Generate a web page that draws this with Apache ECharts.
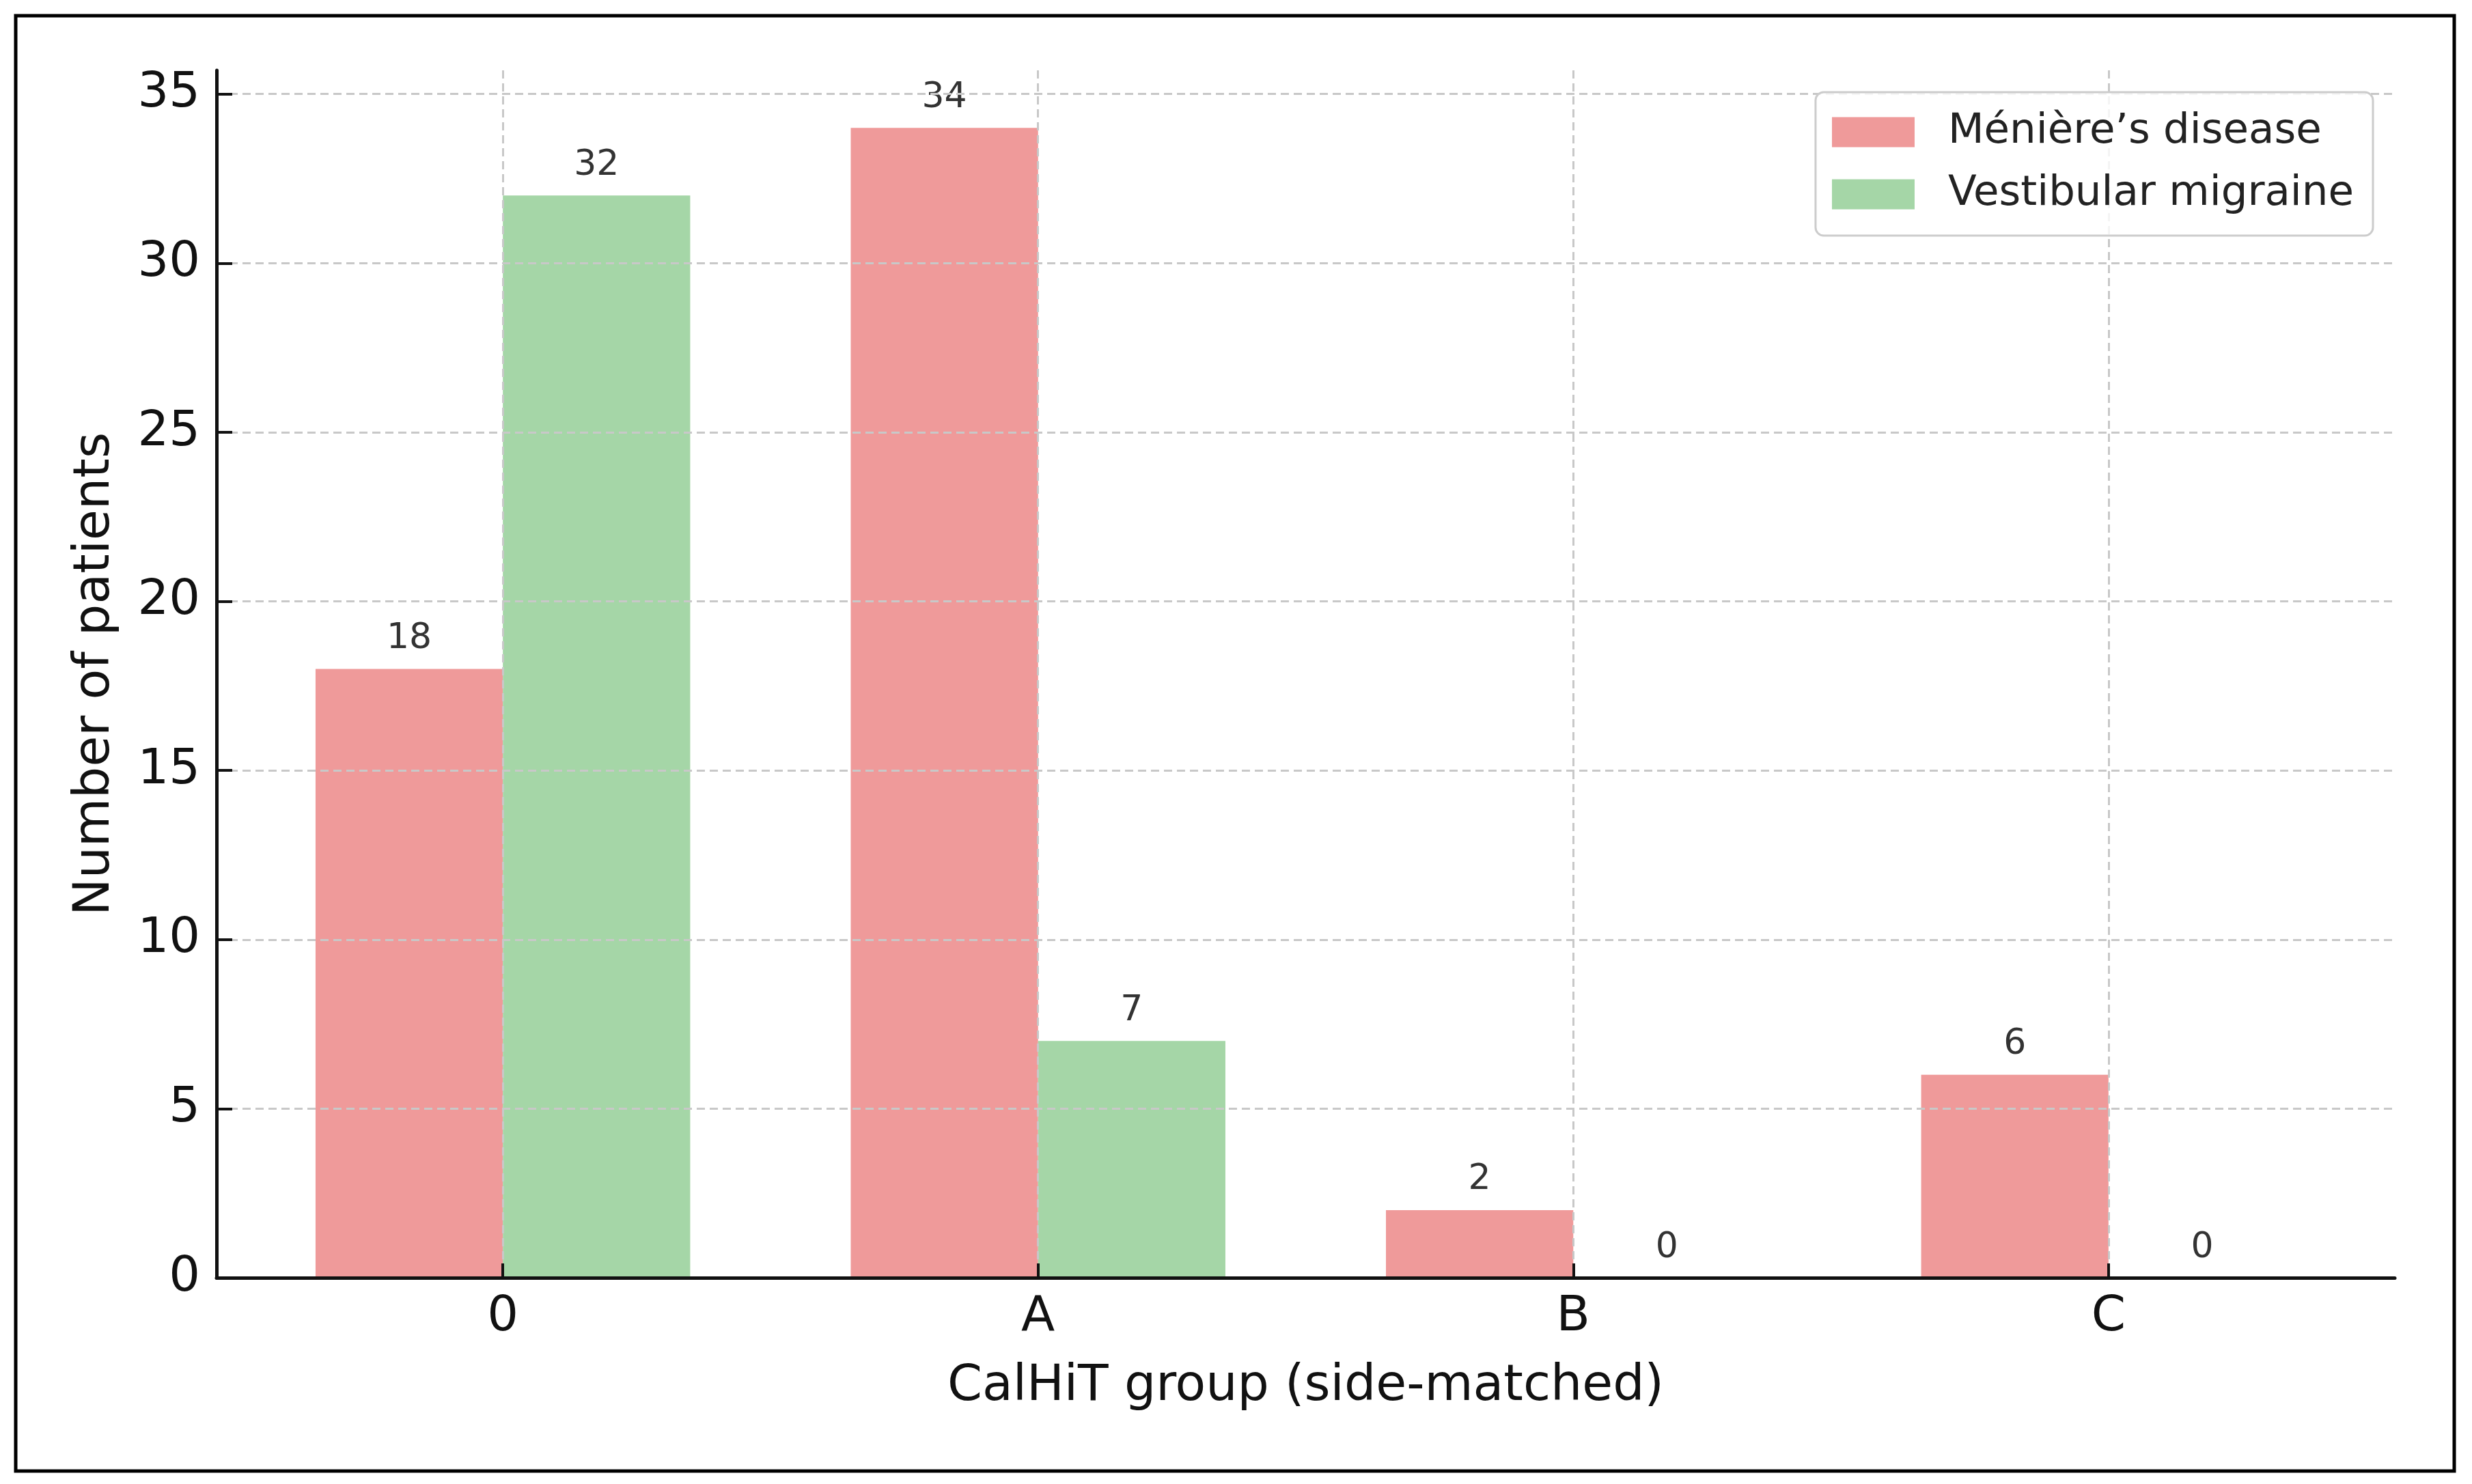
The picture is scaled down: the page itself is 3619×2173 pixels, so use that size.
<!DOCTYPE html>
<html>
<head>
<meta charset="utf-8">
<script src="https://cdn.jsdelivr.net/npm/echarts@6/dist/echarts.min.js"></script>
<style>
  html, body { margin: 0; padding: 0; background: #fff; }
  #chart { width: 3619px; height: 2173px; }
</style>
</head>
<body>
<div id="chart"></div>
<script>
(function () {
  "use strict";

  // data
  const categories = ['0', 'A', 'B', 'C'];
  const meniere = [18, 34, 2, 6];
  const vestibular = [32, 7, 0, 0];
  const yTicks = [0, 5, 10, 15, 20, 25, 30, 35];
  const seriesNames = ['Ménière’s disease', 'Vestibular migraine'];

  const xTicks = categories.map((c, i) => i);
  const font = 'DejaVu Sans';

  const gridLine = { show: true, lineStyle: { color: '#c8c8c8', width: 3, type: [12, 7] } };

  function barSeries(name, values, color) {
    return {
      name: name,
      type: 'bar',
      z: -1,
      barWidth: '35%',
      barGap: '0%',
      itemStyle: { color: color },
      label: {
        show: true,
        position: 'top',
        distance: 18,
        fontFamily: font,
        fontSize: 52,
        color: '#333'
      },
      data: values.map((v, i) => [i, v])
    };
  }

  const chart = echarts.init(document.getElementById('chart'));
  chart.setOption({
    animation: false,
    backgroundColor: '#fff',
    textStyle: { fontFamily: font },
    grid: { left: 317, right: 113, top: 103, bottom: 302, containLabel: false },
    legend: {
      orient: 'vertical',
      right: 145,
      top: 135,
      icon: 'rect',
      itemWidth: 121,
      itemHeight: 44,
      itemGap: 30,
      padding: [28, 28, 30, 24],
      backgroundColor: 'rgba(255,255,255,0.8)',
      borderColor: '#cccccc',
      borderWidth: 3,
      borderRadius: 12,
      textStyle: { fontFamily: font, fontSize: 61, color: '#222', padding: [0, 0, 0, 44] },
      data: seriesNames
    },
    xAxis: {
      type: 'value',
      min: -0.535,
      max: 3.535,
      name: 'CalHiT group (side-matched)',
      nameLocation: 'middle',
      nameGap: 124,
      nameTextStyle: { fontFamily: font, fontSize: 73, color: '#111' },
      axisLine: { show: true, onZero: false, lineStyle: { color: '#111', width: 5 } },
      axisTick: { show: true, inside: true, length: 21, lineStyle: { color: '#111', width: 4 }, customValues: xTicks },
      axisLabel: {
        margin: 22,
        fontFamily: font,
        fontSize: 72,
        color: '#111',
        customValues: xTicks,
        formatter: v => categories[v] !== undefined ? categories[v] : ''
      },
      splitLine: gridLine
    },
    yAxis: {
      type: 'value',
      min: 0,
      max: 35.7,
      interval: 5,
      name: 'Number of patients',
      nameLocation: 'middle',
      nameGap: 140,
      nameTextStyle: { fontFamily: font, fontSize: 73, color: '#111' },
      axisLine: { show: true, onZero: false, lineStyle: { color: '#111', width: 5 } },
      axisTick: { show: true, inside: true, length: 23, lineStyle: { color: '#111', width: 4 }, customValues: yTicks },
      axisLabel: {
        margin: 24,
        fontFamily: font,
        fontSize: 72,
        color: '#111',
        customValues: yTicks
      },
      splitLine: Object.assign({ showMinLine: false }, gridLine)
    },
    series: [
      barSeries(seriesNames[0], meniere, '#EF9A9A'),
      barSeries(seriesNames[1], vestibular, '#A5D6A7')
    ],
    graphic: [{
      type: 'rect',
      silent: true,
      shape: { x: 23, y: 23, width: 3570, height: 2131 },
      style: { fill: 'none', stroke: '#000', lineWidth: 5 }
    }]
  });
})();
</script>
</body>
</html>
